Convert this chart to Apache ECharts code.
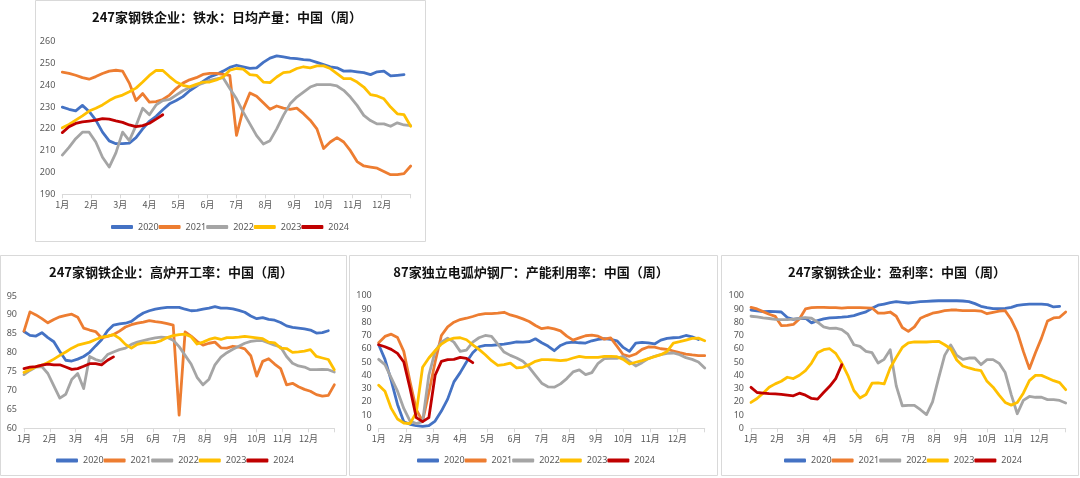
<!DOCTYPE html>
<html><head><meta charset="utf-8">
<script src="https://cdn.jsdelivr.net/npm/echarts@6/dist/echarts.min.js"></script>
<style>html,body{margin:0;padding:0;background:#fff;}#c{width:1080px;height:478px;}</style>
</head><body><div id="c"></div>
<script>
const years = ['2020','2021','2022','2023','2024'];
const monthLabels = ['1月','2月','3月','4月','5月','6月','7月','8月','9月','10月','11月','12月'];
const colors = ['#4472C4','#ED7D31','#A5A5A5','#FFC000','#C00000'];
const titles = ['247家钢铁企业：铁水：日均产量：中国（周）','247家钢铁企业：高炉开工率：中国（周）','87家独立电弧炉钢厂：产能利用率：中国（周）','247家钢铁企业：盈利率：中国（周）'];

// Panel 1: hot metal daily output (weekly)
const hm2020 = [230,229,228.3,230.8,228,224,218.5,214.5,213.2,213.2,213.5,216,220,223.5,225.8,228.8,231.5,233,234.8,237.5,239.5,241.8,243.8,245,246.5,248.2,249.2,248.5,247.8,248,250.5,252.5,253.5,253,252.5,252.2,251.8,251.5,250.5,249.5,248.5,248,246.5,246.6,246.2,245.8,244.9,246.2,246.5,244.3,244.6,244.9];
const hm2021 = [246,245.5,244.6,243.5,242.8,244,245.4,246.5,246.9,246.5,241,233,236.2,232.3,232.5,233.5,235.5,238.5,241,242.5,243.5,245,245.5,245.5,245,244.5,217,229,236.5,235,232,229,230.5,229.5,229,229.5,227,224,220,211,214,216,214,210,205,203,202.5,202,200.5,199,199,199.5,203];
const hm2022 = [208,211.5,215.5,218.5,218.5,214,207,202.5,209,218.5,214.6,221.5,229.5,226.5,231,233,233.5,235.5,237.5,239,240,241,242.3,243,243.5,238.5,233.8,227.7,222.3,216.9,213.1,214.6,220,226.2,231.5,234.6,236.9,239.2,240.3,240.3,240.3,239.7,237.7,234.6,230.8,226.2,223.8,222.3,222.3,221.2,222.8,221.8,221.5];
const hm2023 = [220.5,222,224,226,228.2,229.5,231,233,234.6,235.5,237,238.7,241.5,244.5,246.8,246.8,244,241.5,240,239.3,240.5,241.5,241.5,242.5,243.8,246.9,247.7,247.4,244.9,244.6,241.5,241.2,243.8,245.8,246.2,247.7,248.5,248,248.9,248.9,247.7,245.4,243.1,243.1,241.5,239.2,235.7,235.1,233.8,230,226.9,226.5,221.2];
const hm2024 = [218.3,221,222.5,223.2,223.6,224,224.7,224.5,223.7,223,221.8,221,221.5,222.6,224.5,226.5];

// Panel 2: blast furnace operating rate
const bf2020 = [85.6,84.6,84.4,85.3,84,82.9,80.3,78,77.8,78.3,79,80.1,81.8,83.4,85.8,87.3,87.6,87.8,88.3,89.5,90.5,91.1,91.5,91.8,92,92,92,91.5,91.1,91.2,91.5,91.8,92.2,91.8,91.8,91.6,91.2,90.7,89.7,89,89.3,88.8,88.6,88,87.1,86.7,86.5,86.3,86,85.2,85.3,85.8];
const bf2021 = [85.7,90.8,90,89,87.9,88.8,89.5,89.9,90.2,89.4,86.5,86,85.6,83.9,84.3,84.8,85.7,86.8,87.4,87.8,88.1,88.5,88.2,88,87.7,87.3,63.5,85.5,84.4,83,82,82.5,82.8,81.3,81.2,81.7,81.5,81,79.2,73.8,77.7,78.4,77,75.8,71.5,71.9,71,70.3,69.8,68.9,68.5,68.7,71.5];
const bf2022 = [74.2,75.3,76.2,76.3,74.5,71.2,68,69,72.9,74.5,70.5,79,78.2,77.7,79.5,80.2,80.8,81.2,82.2,82.8,83.2,83.6,83.9,84.1,84,83.3,81.6,79.3,77,73.5,71.5,73,76.8,78.8,80,80.9,81.7,82.5,83,83.2,83.2,82.6,82,81.5,79,77.2,76.5,76.2,75.5,75.5,75.6,75.5,74.9];
const bf2023 = [74.8,75.5,76.3,76.7,77.4,78.3,79.3,80.2,81.2,82,82.4,82.8,83.5,84.1,84.4,84.8,83.8,82.2,81.2,82.2,82.6,82.6,82.7,83.2,84,84.5,84.8,84.9,84.2,82.3,82.8,83.5,83.9,83.5,84,84,84.1,84.3,84.1,83.9,83.7,82.8,82.6,81.2,81.1,80.1,80.2,80.4,80.8,79,78.6,78.2,75.5];
const bf2024 = [75.8,76.2,76.3,76.7,77,76.8,76.8,76.2,75.6,75.8,76.4,77.1,77.1,76.8,78,78.9];

// Panel 3: EAF capacity utilization
const eaf2020 = [63,52,36,18,5,3,2,1.5,2,5.5,13,22,35,42,50,57,61.5,62.6,62.5,63,63.5,64.3,65.1,65,65.3,67.5,64.5,62,58.5,62.5,64.5,65,64.5,64.3,66,67,67.6,67,66,61,58,64.3,64.8,64.5,63.6,66.5,67.8,68.3,68.6,70,69,67];
const eaf2021 = [64.5,69.3,71,68.5,58,35,14,5.3,27,50,70,76.5,80,82,83,84.3,85.8,86.5,86.5,86.8,87.5,85.5,84.2,82.5,80.5,77.5,75.1,76,75,73.5,69.5,66.5,68.2,69.8,70.2,69.5,67.2,68.2,62,55.5,54.3,56,59.5,61.3,61.2,60,59.5,58.3,57,56,55.3,54.8,54.8];
const eaf2022 = [52,48,38,28,15,5.5,3.5,5,40,58,65,68,65,58,59,65,68.3,70,69.3,63.5,57.5,55,53,50.5,46,40,34,31.3,31,33.5,37.5,42.5,44,40.5,42,49,52.5,52.8,52.8,54.2,50.5,47,49.5,52.5,54.3,55.5,56.5,56.8,55.5,53.3,52,50,45.5];
const eaf2023 = [32.5,28,15,7,4,3.5,12,46,53,58.5,63.5,66.5,68,68.3,66.8,63,59.5,55.5,51,47.5,48,49.2,45.5,46,48,50.5,51.8,51.8,51.5,51,51.5,53,54.3,53.5,53.5,53.5,54.3,54.3,54,52,48.5,49.8,51,52.5,54,55.5,58,64.3,65.3,66.5,67.8,68,66];
const eaf2024 = [63,61.5,59.5,56.5,50,30,8,5,8,40,50.5,51.8,52,53.5,52.8,49.5];

// Panel 4: profitability rate
const pr2020 = [89.2,88.5,88,88.2,88,87.7,83.5,82.2,82.8,83,79.5,81.2,82.5,83.2,83.5,83.8,84.3,85,86.5,87.8,90.5,92.8,93.7,94.7,95.5,95,94.5,95,95.5,95.7,96,96.2,96.2,96.2,96.2,96,95.5,94,92,91,90.2,90.2,90.5,91.2,92.7,93.3,93.7,93.7,93.7,93.3,91.5,92];
const pr2021 = [91.2,90,88,86,84.4,77.5,77.6,78.3,82.5,90,91,91.2,91.2,91,91,90.7,91,91,91,90.8,90.7,86.9,86.9,87.7,84.5,76,73.1,76.5,83,85,86.8,87.7,88.7,89.2,89.2,88.8,88.7,88.7,88.4,86.4,87.5,88.3,88.7,82,72.5,58,45,57,68,81,83.2,83.7,87.7];
const pr2022 = [84.5,84,83.2,82.8,82.2,81.9,81.9,82.3,82.8,83.5,83,80,76.5,75.4,75.5,74.4,71,63,61.8,58,57,49.2,52,59.3,32,17,17.3,17.3,14,10.3,20,37.9,55,62.8,55,52,53,53,48,51.8,51.8,49,42,25.4,11,21,24,23.4,23.4,21.6,21.6,21,19.1];
const pr2023 = [19.5,22.5,26.5,31,33.5,35.5,38.5,37.5,40,43.5,49.2,57,59.3,60,56.5,49.2,40,28.5,22.9,25.5,34,34.2,33.5,45.5,53.5,61,64.5,65.1,65.1,65.1,65.3,65.6,63,60,51.5,47,45.5,44.2,43.5,35.4,31,25,19.5,17.5,19.5,26.5,36,39.9,39.9,37.9,35.9,34.5,29.1];
const pr2024 = [30.9,27,26.6,26.2,26,25.6,25,24.5,26.5,25,22.5,22,27,31.7,37.5,48];

const WEEKS_PER_YEAR = 52;
const panels = [
  {data:[hm2020,hm2021,hm2022,hm2023,hm2024], min:190, max:260, interval:10,
   grid:{left:62.3, top:41.7, width:348.4, height:152.6}, box:[35.5,0.5,390,241], titleX:227, titleY:17, legendLeft:111, legendTop:222.5},
  {data:[bf2020,bf2021,bf2022,bf2023,bf2024], min:60, max:95, interval:5,
   grid:{left:24, top:296, width:310.3, height:132.3}, box:[0.5,255.5,346,220], titleX:171, titleY:272, legendLeft:56, legendTop:456},
  {data:[eaf2020,eaf2021,eaf2022,eaf2023,eaf2024], min:0, max:100, interval:10,
   grid:{left:378.7, top:295.7, width:326, height:132.6}, box:[349.5,255.5,368,220], titleX:531, titleY:272, legendLeft:417, legendTop:456},
  {data:[pr2020,pr2021,pr2022,pr2023,pr2024], min:0, max:100, interval:10,
   grid:{left:751, top:295.7, width:314.7, height:132.6}, box:[721.5,255.5,357,220], titleX:897, titleY:272, legendLeft:784, legendTop:456}
];

const labelFont = '"Noto Sans CJK SC", "Noto Sans", sans-serif';
const grids = [], xAxes = [], yAxes = [], series = [], legends = [], graphics = [];
panels.forEach((p, pi) => {
  grids.push(Object.assign({containLabel:false}, p.grid));
  xAxes.push({
    type:'value', gridIndex:pi, min:0, max:12, interval:1,
    axisLine:{show:true, lineStyle:{color:'#D9D9D9', width:1}},
    axisTick:{show:true, length:4, lineStyle:{color:'#D9D9D9'}},
    splitLine:{show:false},
    axisLabel:{fontSize:9, color:'#595959', margin:6, fontFamily:labelFont,
      showMaxLabel:true, showMinLabel:true,
      formatter: v => { const i = Math.round(v); return i < 12 ? monthLabels[i] : ''; }}
  });
  yAxes.push({
    type:'value', gridIndex:pi, min:p.min, max:p.max, interval:p.interval,
    axisLine:{show:false}, axisTick:{show:false}, splitLine:{show:false},
    axisLabel:{fontSize:9, color:'#595959', margin:7, fontFamily:'"Noto Sans", sans-serif'}
  });
  p.data.forEach((arr, yi) => {
    series.push({
      type:'line', name:years[yi], xAxisIndex:pi, yAxisIndex:pi,
      data: arr.map((v, k) => [k * 12 / WEEKS_PER_YEAR, v]),
      symbol:'none', smooth:false, z:2+yi,
      lineStyle:{width:2.8, color:colors[yi], cap:'round', join:'round'},
      itemStyle:{color:colors[yi]}
    });
  });
  legends.push({
    data:years, left:p.legendLeft, top:p.legendTop, padding:0, orient:'horizontal',
    itemWidth:22, itemHeight:4, itemGap:0, icon:'roundRect', selectedMode:false,
    textStyle:{fontSize:9, color:'#595959', fontFamily:'"Noto Sans", sans-serif'}
  });
  graphics.push({
    type:'rect', shape:{x:p.box[0], y:p.box[1], width:p.box[2], height:p.box[3]},
    style:{fill:'none', stroke:'#D9D9D9', lineWidth:1}, z:-10, silent:true
  });
  graphics.push({
    type:'text', x:p.titleX, y:p.titleY, z:100,
    style:{text:titles[pi], fill:'#111', font:'bold 13px "Noto Sans CJK SC"',
      align:'center', verticalAlign:'middle', textAlign:'center', textVerticalAlign:'middle'}
  });
});

const chart = echarts.init(document.getElementById('c'), null, {renderer:'canvas'});
chart.setOption({
  animation:false, backgroundColor:'#fff', color:colors,
  grid:grids, xAxis:xAxes, yAxis:yAxes, series:series, legend:legends,
  graphic:{elements:graphics}
});
</script></body></html>
